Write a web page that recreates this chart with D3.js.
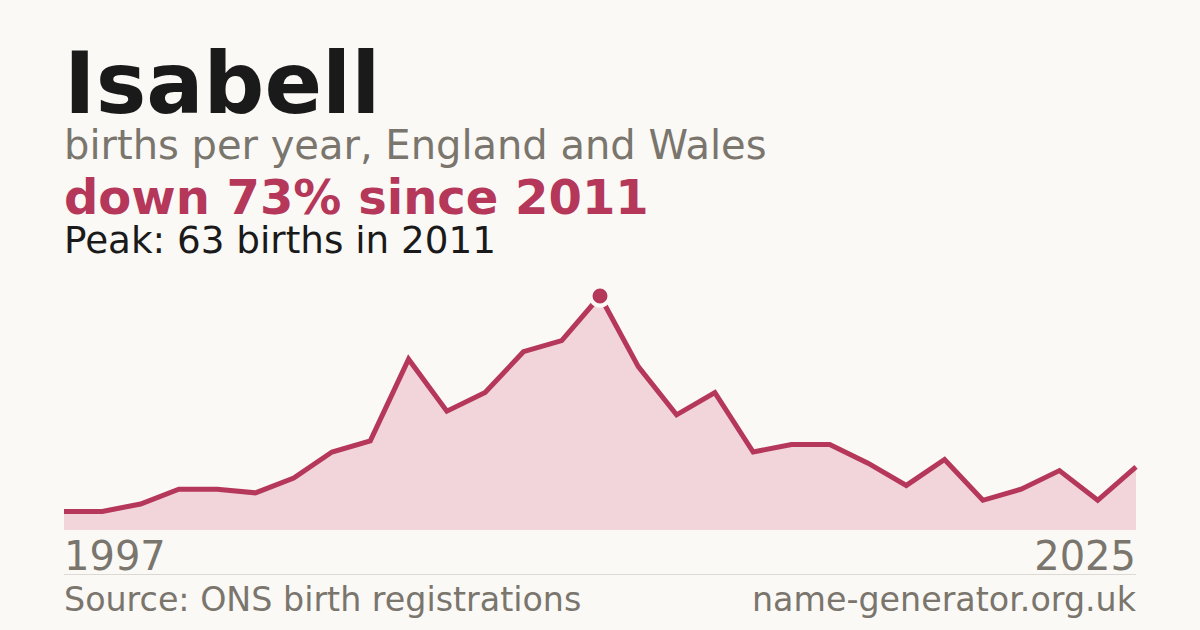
<html>
    <head>
        <script src="https://d3js.org/d3.v7.min.js"></script>
        <style>
            body { margin: 0; background: #faf9f5; }
            text { font-family: "DejaVu Sans", sans-serif; }
        </style>
    </head>
    <body>
        <svg id="svg" width="1200" height="630"></svg>
        <script>
            var years = d3.range(1997, 2026);
            var births = [5, 5, 7, 11, 11, 10, 14, 21, 24, 46, 32, 37, 48, 51, 63,
                          44, 31, 37, 21, 23, 23, 18, 12, 19, 8, 11, 16, 8, 17];
            var peakYear = 2011;
            var peakValue = 63;

            var svg = d3.select("svg");
            var width = +svg.attr("width");
            var height = +svg.attr("height");

            svg.append("rect").attr("width", width).attr("height", height).attr("fill", "#faf9f5");

            var plotLeft = 64, plotRight = 1136, plotTop = 296, plotBottom = 530;

            var x = d3.scaleLinear().domain([1997, 2025]).range([plotLeft, plotRight]);
            var y = d3.scaleLinear().domain([0, peakValue]).range([plotBottom, plotTop]);

            var data = years.map(function(yr, i){ return {year: yr, value: births[i]}; });

            var area = d3.area()
                .x(function(d){ return x(d.year); })
                .y0(plotBottom)
                .y1(function(d){ return y(d.value); });

            var line = d3.line()
                .x(function(d){ return x(d.year); })
                .y(function(d){ return y(d.value); });

            svg.append("path").attr("d", area(data)).attr("fill", "#f1d5da");
            svg.append("path").attr("d", line(data))
                .attr("fill", "none")
                .attr("stroke", "#b5375a")
                .attr("stroke-width", 5)
                .attr("stroke-linejoin", "miter");

            // peak marker with white halo
            svg.append("circle")
                .attr("cx", x(peakYear)).attr("cy", y(peakValue)).attr("r", 9.5)
                .attr("fill", "#b5375a").attr("stroke", "#faf9f5").attr("stroke-width", 4);

            // header
            svg.append("text").attr("x", 64).attr("y", 113)
                .attr("font-size", 85).attr("font-weight", "bold").attr("fill", "#1a1a1a")
                .text("Isabell");
            svg.append("text").attr("x", 64).attr("y", 159)
                .attr("font-size", 40).attr("fill", "#7a756d")
                .text("births per year, England and Wales");
            svg.append("text").attr("x", 64).attr("y", 214)
                .attr("font-size", 48).attr("font-weight", "bold").attr("fill", "#b5375a")
                .text("down 73% since 2011");
            svg.append("text").attr("x", 64).attr("y", 253)
                .attr("font-size", 37.3).attr("fill", "#1a1a1a")
                .text("Peak: " + peakValue + " births in " + peakYear);

            // axis end labels
            svg.append("text").attr("x", x(1997)).attr("y", 570)
                .attr("font-size", 40).attr("fill", "#7a756d")
                .text("1997");
            svg.append("text").attr("x", x(2025)).attr("y", 570)
                .attr("font-size", 40).attr("fill", "#7a756d").attr("text-anchor", "end")
                .text("2025");

            svg.append("line").attr("x1", plotLeft).attr("x2", plotRight).attr("y1", 574.5).attr("y2", 574.5)
                .attr("stroke", "#dcd9d2").attr("stroke-width", 1);

            svg.append("text").attr("x", 64).attr("y", 611)
                .attr("font-size", 33.3).attr("fill", "#7a756d")
                .text("Source: ONS birth registrations");
            svg.append("text").attr("x", 1136).attr("y", 611)
                .attr("font-size", 33.3).attr("fill", "#7a756d").attr("text-anchor", "end")
                .text("name-generator.org.uk");
        </script>
    </body>
</html>
